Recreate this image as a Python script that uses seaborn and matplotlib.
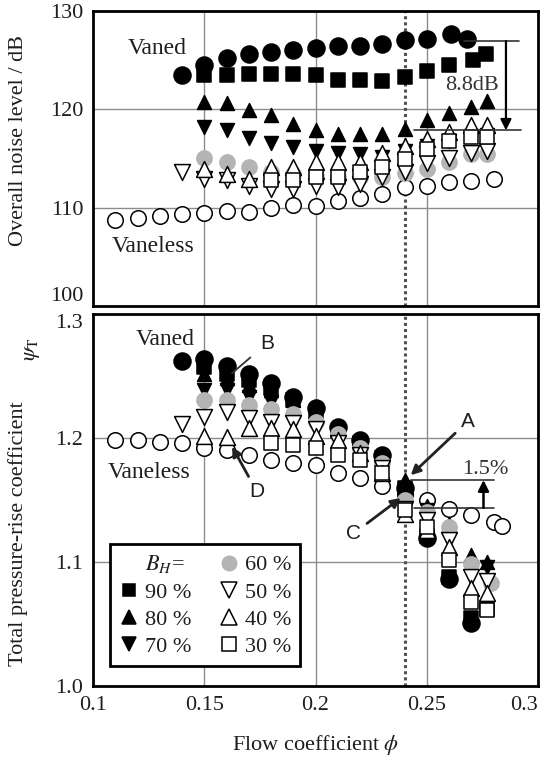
import matplotlib
matplotlib.use("Agg")
import matplotlib.pyplot as plt
import seaborn as sns
from matplotlib.lines import Line2D

# ---------------- data ----------------
phi_std = [0.15, 0.16, 0.17, 0.18, 0.19, 0.20, 0.21, 0.22, 0.23, 0.24, 0.25, 0.26, 0.27, 0.277]
phi_50 = [0.14] + phi_std
phi_30 = [0.18, 0.19, 0.20, 0.21, 0.22, 0.23, 0.24, 0.25, 0.26, 0.27, 0.277]

# top panel: overall noise level / dB
noise_vl_phi = [0.11, 0.12, 0.13, 0.14, 0.15, 0.16, 0.17, 0.18, 0.19, 0.20, 0.21, 0.22, 0.23,
                0.24, 0.25, 0.26, 0.27, 0.28]
noise_vl = [108.7, 109.0, 109.2, 109.4, 109.5, 109.7, 109.6, 110.0, 110.3, 110.2, 110.7, 111.0,
            111.4, 112.1, 112.2, 112.6, 112.7, 112.9]
noise_100_phi = [0.14, 0.15, 0.16, 0.17, 0.18, 0.19, 0.20, 0.21, 0.22, 0.23, 0.24, 0.25, 0.261, 0.268]
noise_100 = [123.5, 124.5, 125.2, 125.6, 125.8, 126.0, 126.2, 126.4, 126.4, 126.6, 127.1, 127.2,
             127.7, 127.2]
noise_90_phi = [0.15, 0.16, 0.17, 0.18, 0.19, 0.20, 0.21, 0.22, 0.23, 0.24, 0.25, 0.26, 0.2706, 0.2766]
noise_90 = [123.5, 123.5, 123.6, 123.6, 123.6, 123.5, 123.0, 123.0, 122.9, 123.3, 123.9, 124.5,
            125.0, 125.6]
noise_80 = [120.7, 120.6, 119.9, 119.4, 118.5, 117.9, 117.5, 117.5, 117.5, 118.0, 118.9, 119.6,
            120.2, 120.8]
noise_70 = [118.2, 117.9, 117.1, 116.6, 116.2, 115.8, 115.6, 115.5, 115.2, 115.8, 116.3, 116.8,
            117.3, 117.4]
noise_60 = [115.1, 114.6, 114.1, 113.6, 113.4, 113.2, 113.1, 113.1, 113.1, 113.5, 113.9, 114.6,
            115.5, 115.5]
noise_50 = [113.6, 112.9, 112.8, 112.2, 111.9, 111.9, 112.2, 112.1, 112.4, 113.1, 113.6, 114.5,
            115.1, 115.6, 115.8]
noise_40 = [113.9, 113.4, 112.9, 114.1, 114.1, 114.6, 114.6, 114.6, 115.6, 116.3, 117.0, 117.7,
            118.4, 118.4]
noise_30 = [112.8, 112.8, 113.1, 113.1, 113.6, 114.1, 115.0, 116.0, 116.8, 117.2, 117.2]

# bottom panel: total pressure-rise coefficient
psi_vl_phi = [0.11, 0.12, 0.13, 0.14, 0.15, 0.16, 0.17, 0.18, 0.19, 0.20, 0.21, 0.22, 0.23,
              0.24, 0.25, 0.26, 0.27, 0.28, 0.284]
psi_vl = [1.198, 1.198, 1.197, 1.196, 1.192, 1.190, 1.186, 1.182, 1.180, 1.178, 1.172, 1.168,
          1.161, 1.155, 1.150, 1.143, 1.138, 1.132, 1.129]
psi_100_phi = [0.14, 0.15, 0.16, 0.17, 0.18, 0.19, 0.20, 0.21, 0.22, 0.23, 0.24, 0.25, 0.26, 0.27]
psi_100 = [1.262, 1.264, 1.258, 1.252, 1.244, 1.233, 1.224, 1.209, 1.198, 1.186, 1.160, 1.119,
           1.086, 1.051]
psi_90 = [1.257, 1.252, 1.247, 1.240, 1.231, 1.221, 1.206, 1.196, 1.184, 1.160, 1.121, 1.088,
          1.055, 1.062]
psi_80 = [1.252, 1.248, 1.243, 1.239, 1.231, 1.220, 1.207, 1.198, 1.186, 1.166, 1.145, 1.131,
          1.106, 1.100]
psi_70 = [1.239, 1.239, 1.233, 1.229, 1.225, 1.216, 1.202, 1.190, 1.180, 1.147, 1.142, 1.123,
          1.096, 1.096]
psi_60_phi = phi_std[:-1] + [0.279]
psi_60 = [1.231, 1.231, 1.227, 1.223, 1.219, 1.213, 1.203, 1.192, 1.180, 1.150, 1.140, 1.128,
          1.098, 1.083]
psi_50 = [1.211, 1.217, 1.221, 1.216, 1.213, 1.212, 1.207, 1.196, 1.186, 1.176, 1.143, 1.134,
          1.118, 1.088, 1.085]
psi_40 = [1.202, 1.201, 1.208, 1.208, 1.207, 1.202, 1.198, 1.188, 1.172, 1.139, 1.126, 1.112,
          1.079, 1.075]
psi_30 = [1.196, 1.194, 1.192, 1.186, 1.182, 1.172, 1.142, 1.128, 1.102, 1.068, 1.061]

x_ticks = [0.1, 0.15, 0.2, 0.25, 0.3]
x_ticklabels = ["0.1", "0.15", "0.2", "0.25", "0.3"]
top_yticks = [100, 110, 120, 130]
bot_yticks = [1.0, 1.1, 1.2, 1.3]
bot_yticklabels = ["1.0", "1.1", "1.2", "1.3"]
legend_labels = ["$B_H$=", "90 %", "80 %", "70 %", "60 %", "50 %", "40 %", "30 %"]

# ---------------- style ----------------
sns.set_theme(style="white")
plt.rcParams["font.family"] = ["Liberation Serif", "DejaVu Serif"]
plt.rcParams["mathtext.fontset"] = "stix"
TXT = "#1e1e1e"
GRAY = "#b4b4b4"

fig = plt.figure(figsize=(5.43, 7.65), dpi=100)
ax1 = fig.add_axes([93 / 543, 1 - 306 / 765, 445 / 543, 295 / 765])
ax2 = fig.add_axes([93 / 543, 1 - 686 / 765, 445 / 543, 372 / 765])

# series styles: (marker, size, face, edge)
ST = {
    "vl": ("o", 125, "white", "black"),
    "100": ("o", 150, "black", "black"),
    "90": ("s", 90, "black", "black"),
    "80": ("^", 100, "black", "black"),
    "70": ("v", 100, "black", "black"),
    "60": ("o", 120, GRAY, GRAY),
    "50": ("v", 130, "white", "black"),
    "40": ("^", 130, "white", "black"),
    "30": ("s", 115, "white", "black"),
}


def draw(ax, key, x, y, z):
    m, s, fc, ec = ST[key]
    sns.scatterplot(x=x, y=y, marker=m, s=s, color=fc, edgecolor=ec, linewidth=1.1,
                    ax=ax, zorder=z, legend=False)


for ax, series in [
    (ax1, [("vl", noise_vl_phi, noise_vl), ("100", noise_100_phi, noise_100),
           ("90", noise_90_phi, noise_90), ("80", phi_std, noise_80), ("70", phi_std, noise_70),
           ("60", phi_std, noise_60), ("50", phi_50, noise_50), ("40", phi_std, noise_40),
           ("30", phi_30, noise_30)]),
    (ax2, [("vl", psi_vl_phi, psi_vl), ("100", psi_100_phi, psi_100),
           ("90", phi_std, psi_90), ("80", phi_std, psi_80), ("70", phi_std, psi_70),
           ("60", psi_60_phi, psi_60), ("50", phi_50, psi_50), ("40", phi_std, psi_40),
           ("30", phi_30, psi_30)]),
]:
    for i, (k, x, y) in enumerate(series):
        draw(ax, k, x, y, 5 + i)

for ax in (ax1, ax2):
    ax.set_xlim(0.1, 0.3)
    ax.set_xticks(x_ticks)
    ax.grid(True, color="#8c8c8c", lw=1.0, zorder=0)
    ax.axvline(0.24, color="#505050", ls=(0, (1, 1)), lw=2.2, zorder=3)
    ax.tick_params(length=0, pad=7, labelsize=16, labelcolor=TXT)
    for sp in ax.spines.values():
        sp.set_color("black")
        sp.set_linewidth(2.0)
        sp.set_zorder(20)
    ax.set_axisbelow(True)

ax1.set_ylim(100, 130)
ax1.set_yticks(top_yticks)
ax1.set_xticklabels([])
ax2.set_ylim(1.0, 1.3)
ax2.set_yticks(bot_yticks)
ax2.set_yticklabels(bot_yticklabels)
ax2.set_xticklabels(x_ticklabels)

# keep the touching "100" / "1.3" labels apart, last x label inside the figure
ax1.get_yticklabels()[0].set_va("bottom")
ax2.get_yticklabels()[-1].set_va("top")
ax2.get_xticklabels()[-1].set_ha("right")
ax2.get_xticklabels()[-1].set_x(0.3)

ax1.set_ylabel("Overall noise level / dB", fontsize=16, color=TXT)
ax1.yaxis.set_label_coords(-0.145, 0.56)
ax2.set_ylabel("Total pressure-rise coefficient", fontsize=16, color=TXT)
ax2.yaxis.set_label_coords(-0.145, 0.41)
ax2.text(-0.135, 0.905, r"$\psi_{\rm T}$", transform=ax2.transAxes, rotation=90,
         fontsize=16, color=TXT, ha="center", va="center")
ax2.set_xlabel(r"Flow coefficient $\phi$", fontsize=16, color=TXT, labelpad=13)

# ---------------- annotations ----------------
ax1.text(0.1289, 126.2, "Vaned", fontsize=17, color=TXT, ha="center", va="center", zorder=30)
ax1.text(0.127, 106.0, "Vaneless", fontsize=17, color=TXT, ha="center", va="center", zorder=30)
ax2.text(0.1324, 1.2794, "Vaned", fontsize=17, color=TXT, ha="center", va="center", zorder=30)
ax2.text(0.125, 1.1722, "Vaneless", fontsize=17, color=TXT, ha="center", va="center", zorder=30)

# 8.8 dB bracket
ax1.plot([0.2667, 0.2914], [126.94, 126.94], color="#333", lw=1.2, zorder=30)
ax1.plot([0.2443, 0.2923], [117.86, 117.86], color="#333", lw=1.2, zorder=30)
ax1.annotate("", xy=(0.2856, 117.86), xytext=(0.2856, 126.94),
             arrowprops=dict(arrowstyle="-|>", color="black", lw=1.6, mutation_scale=16,
                             shrinkA=0, shrinkB=0), zorder=30)
ax1.text(0.2705, 122.4, "8.8dB", fontsize=16, color="#333", ha="center", va="center", zorder=30)

# 1.5 % bracket
ax2.plot([0.2428, 0.2802], [1.1661, 1.1661], color="#333", lw=1.2, zorder=30)
ax2.plot([0.2441, 0.2802], [1.1438, 1.1438], color="#333", lw=1.2, zorder=30)
ax2.annotate("", xy=(0.2755, 1.1661), xytext=(0.2755, 1.1438),
             arrowprops=dict(arrowstyle="-|>", color="black", lw=1.8, mutation_scale=16,
                             shrinkA=0, shrinkB=0), zorder=30)
ax2.text(0.2761, 1.1742, "1.5%", fontsize=16, color="#333", ha="center", va="center", zorder=30)

sans = ["Liberation Sans", "DejaVu Sans"]
ap = dict(arrowstyle="-|>", color="#222", lw=2.0, mutation_scale=14, shrinkA=2, shrinkB=0)
ax2.annotate("B", xy=(0.1625, 1.2523), xytext=(0.1782, 1.2764), fontsize=15, family=sans,
             color=TXT, ha="center", va="center", zorder=30,
             arrowprops=dict(arrowstyle="-", color="#333", lw=1.3, shrinkA=6, shrinkB=0))
ax2.annotate("D", xy=(0.1625, 1.193), xytext=(0.1737, 1.1567), fontsize=15, family=sans,
             color=TXT, ha="center", va="center", zorder=30, arrowprops=ap)
ax2.annotate("A", xy=(0.2428, 1.170), xytext=(0.2683, 1.2132), fontsize=15, family=sans,
             color=TXT, ha="center", va="center", zorder=30, arrowprops=ap)
ax2.annotate("C", xy=(0.2383, 1.1516), xytext=(0.2173, 1.1232), fontsize=15, family=sans,
             color=TXT, ha="center", va="center", zorder=30, arrowprops=ap)

# ---------------- legend ----------------
def h(key):
    m, s, fc, ec = ST[key]
    return Line2D([], [], ls="none", marker=m, markersize=s ** 0.5 * 0.95,
                  markerfacecolor=fc, markeredgecolor=ec, markeredgewidth=1.1)


handles = [Line2D([], [], ls="none"), h("90"), h("80"), h("70"), h("60"), h("50"), h("40"), h("30")]
leg = ax2.legend(handles, legend_labels, ncol=2, loc="lower left",
                 bbox_to_anchor=(0.038, 0.054), fontsize=16, frameon=True, fancybox=False,
                 edgecolor="black", framealpha=1, borderpad=0.4, labelspacing=0.3,
                 handlelength=0.9, handletextpad=0.3, columnspacing=1.2, borderaxespad=0)
leg.get_frame().set_linewidth(2.0)
leg.set_zorder(40)
for t in leg.get_texts():
    t.set_color(TXT)

fig.savefig("out.png", dpi=100)
